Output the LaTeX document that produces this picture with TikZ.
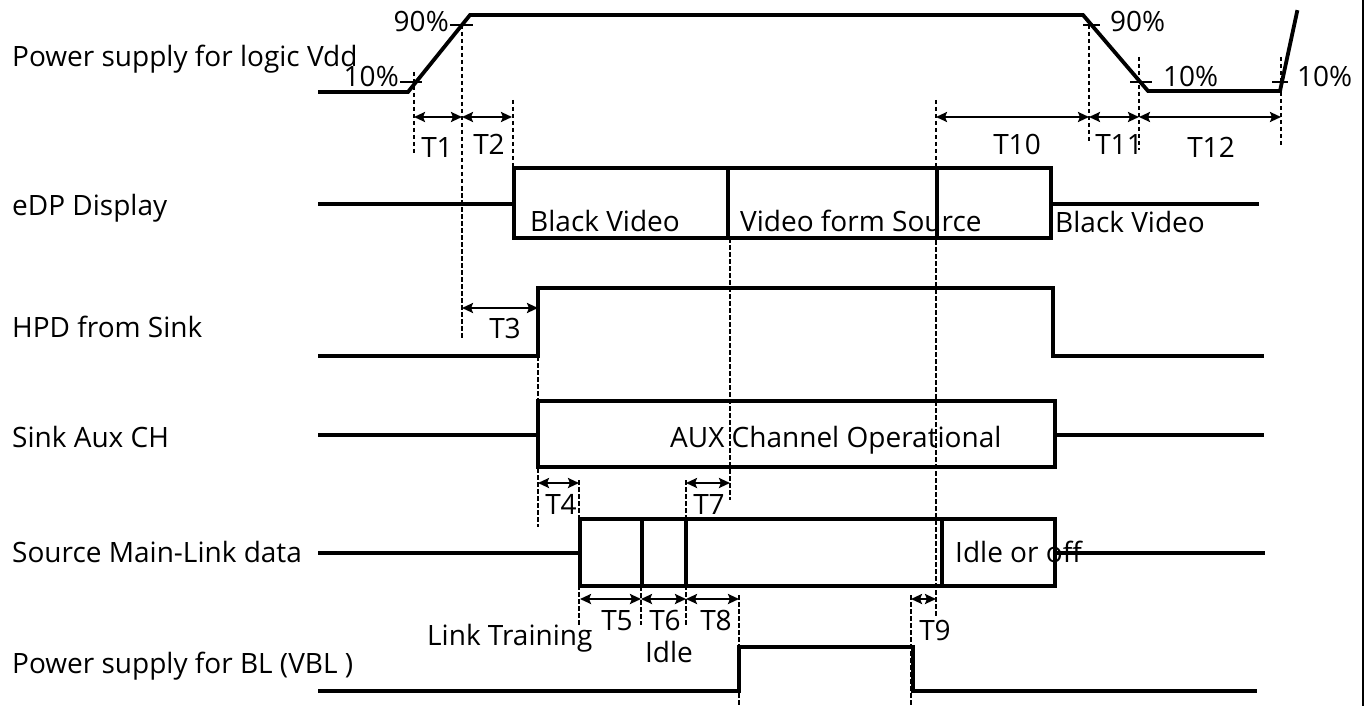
\documentclass[tikz,border=0pt]{standalone}
\usepackage{fontspec}
\setmainfont{Open Sans}
\usetikzlibrary{arrows.meta}
\tikzset{
  sig/.style={line width=3.8pt, line join=miter, line cap=rect},
  tick/.style={line width=2.2pt},
  guide/.style={line width=1.4pt, dash pattern=on 4.5pt off 2.5pt},
  dim/.style={line width=2.4pt, {Stealth[length=11pt,width=10pt,inset=2pt]}-{Stealth[length=11pt,width=10pt,inset=2pt]}},
  lbl/.style={inner sep=0pt, font=\fontsize{28}{33}\selectfont},
}
\begin{document}
\begin{tikzpicture}[x=1pt,y=-1pt]
\useasboundingbox (0,0) rectangle (1366,706);
% right border
\draw[line width=2.5pt] (1363,0) -- (1363,706);

% ---------- signal names ----------
\node[lbl, anchor=base west] (n1) at (12,67) {Power supply for logic Vdd};
\node[lbl, anchor=base west] (n2) at (12,215) {eDP Display};
\node[lbl, anchor=base west] (n3) at (12,337) {HPD from Sink};
\node[lbl, anchor=base west] (n4) at (12,447) {Sink Aux CH};
\node[lbl, anchor=base west] (n5) at (12,562) {Source Main-Link data};
\node[lbl, anchor=base west] (n6) at (12,673) {Power supply for BL (VBL )};

% ---------- guide lines (dashed) ----------
\draw[guide] (414,72) -- (414,153);
\draw[guide] (462,25) -- (462,338);
\draw[guide] (513,100) -- (513,238);
\draw[guide] (730,238) -- (730,500);
\draw[guide] (936,100) -- (936,617);
\draw[guide] (1089,25) -- (1089,142);
\draw[guide] (1139,57) -- (1139,150);
\draw[guide] (1281,57) -- (1281,145);
\draw[guide] (538,356) -- (538,527);
\draw[guide] (579,480) -- (579,625);
\draw[guide] (686,480) -- (686,625);
\draw[guide] (641,586) -- (641,625);
\draw[guide] (739,595) -- (739,706);
\draw[guide] (911,595) -- (911,706);

% ---------- Vdd ----------
\draw[sig] (320,92) -- (408,92) -- (470,15) -- (1083,15) -- (1148,91) -- (1280,91) -- (1297,12);
\draw[tick] (400,82) -- (422,82);
\draw[tick] (450,25) -- (473,25);
\draw[tick] (1083,25) -- (1100,25);
\draw[tick] (1130,82) -- (1152,82);
\draw[tick] (1272,82) -- (1288,82);
\node[lbl, anchor=base east] (p10a) at (399,87) {10\%};
\node[lbl, anchor=base east] (p90a) at (449,32) {90\%};
\node[lbl, anchor=base west] (p90b) at (1110,32) {90\%};
\node[lbl, anchor=base west] (p10b) at (1163,87) {10\%};
\node[lbl, anchor=base west] (p10c) at (1297,87) {10\%};

% ---------- eDP Display ----------
\draw[sig] (320,204) -- (513,204);
\draw[sig] (514,168) rectangle (1051,238);
\draw[sig] (728,168) -- (728,238);
\draw[sig] (937,168) -- (937,238);
\draw[sig] (1051,204) -- (1257,204);
\node[lbl, anchor=base west] (bv1) at (530,231) {Black Video};
\node[lbl, anchor=base west] (vfs) at (740,231) {Video form Source};
\node[lbl, anchor=base west] (bv2) at (1055,232) {Black Video};

% ---------- HPD ----------
\draw[sig] (320,356) -- (538,356) -- (538,288) -- (1053,288) -- (1053,356) -- (1262,356);

% ---------- Sink Aux CH ----------
\draw[sig] (320,435) -- (538,435);
\draw[sig] (538,401) rectangle (1055,467);
\draw[sig] (1055,435) -- (1262,435);
\node[lbl, anchor=base west] (aux) at (670,447) {AUX Channel Operational};

% ---------- Source Main-Link ----------
\draw[sig] (320,553) -- (580,553);
\draw[sig] (580,519) rectangle (1055,586);
\draw[sig] (642,519) -- (642,586);
\draw[sig] (686,519) -- (686,586);
\draw[sig] (942,519) -- (942,586);
\draw[sig] (1055,553) -- (1263,553);
\node[lbl, anchor=base west] (idl) at (955,562) {Idle or off};

% ---------- VBL ----------
\draw[sig] (320,691) -- (739,691) -- (739,647) -- (913,647) -- (913,691) -- (1255,691);

% ---------- timing arrows ----------
\draw[dim] (414,117) -- (462,117);
\draw[dim] (462,117) -- (512,117);
\draw[dim] (936,117) -- (1089,117);
\draw[dim] (1089,117) -- (1139,117);
\draw[dim] (1139,117) -- (1281,117);
\draw[dim] (462,308) -- (538,308);
\draw[dim] (538,483) -- (579,483);
\draw[dim] (686,483) -- (730,483);
\draw[dim] (580,599) -- (641,599);
\draw[dim] (641,599) -- (686,599);
\draw[dim] (686,599) -- (739,599);
\draw[dim] (911,599) -- (936,599);

\node[lbl, anchor=base] (t1) at (437,158) {T1};
\node[lbl, anchor=base] (t2) at (489,155) {T2};
\node[lbl, anchor=base] (t10) at (1017,155) {T10};
\node[lbl, anchor=base] (t11) at (1119,155) {T11};
\node[lbl, anchor=base] (t12) at (1211,158) {T12};
\node[lbl, anchor=base] (t3) at (505,338) {T3};
\node[lbl, anchor=base] (t4) at (561,514) {T4};
\node[lbl, anchor=base] (t7) at (709,514) {T7};
\node[lbl, anchor=base] (t5) at (617,630) {T5};
\node[lbl, anchor=base] (t6) at (665,630) {T6};
\node[lbl, anchor=base] (t8) at (716,630) {T8};
\node[lbl, anchor=base] (t9) at (935,640) {T9};
\node[lbl, anchor=base west] (lt) at (427,645) {Link Training};
\node[lbl, anchor=base] (idle) at (669,662) {Idle};
\end{tikzpicture}
\end{document}
